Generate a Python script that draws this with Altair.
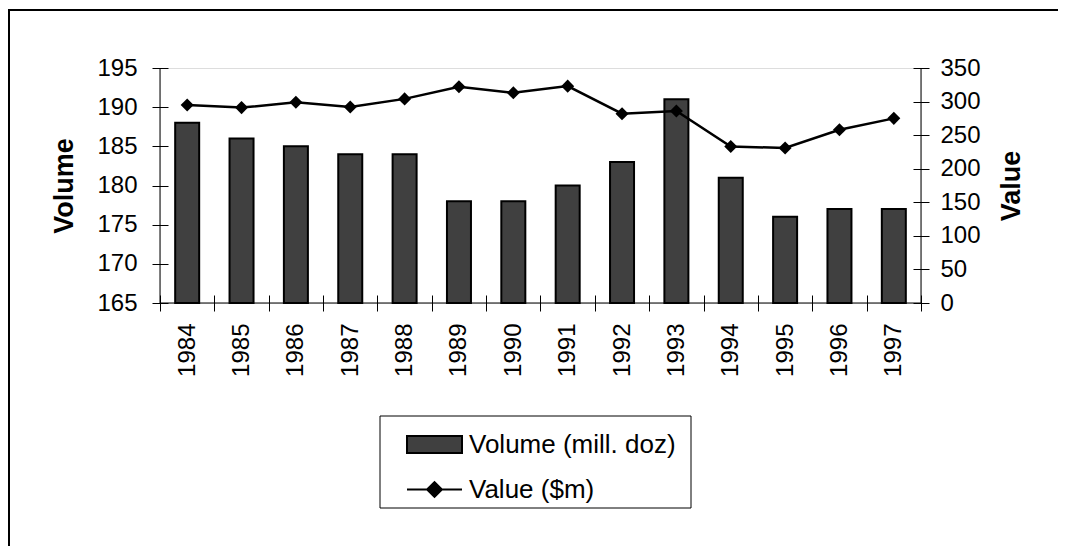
import altair as alt
import pandas as pd

years = ["1984", "1985", "1986", "1987", "1988", "1989", "1990",
         "1991", "1992", "1993", "1994", "1995", "1996", "1997"]
volume = [188, 186, 185, 184, 184, 178, 178, 180, 183, 191, 181, 176, 177, 177]
value = [295, 291, 299, 292, 304, 322, 313, 323, 282, 286, 233, 231, 258, 275]
series_bar = "Volume (mill. doz)"
series_line = "Value ($m)"

df = pd.DataFrame({"year": years, "volume": volume, "value": value,
                   "s1": series_bar, "s2": series_line})

FONT = "Arial"
W, H = 761, 235

xaxis = alt.Axis(title=None, labelAngle=270, tickBand="extent", offset=-8,
                 tickSize=16, domain=False, labelPadding=12, labelFontSize=24,
                 labelColor="black", tickColor="black", grid=False, labelFont=FONT)
xenc = alt.X("year:O", sort=years, axis=xaxis,
             scale=alt.Scale(paddingInner=0, paddingOuter=0))

bars = alt.Chart(df).mark_bar(size=24, stroke="black", strokeWidth=2).encode(
    x=xenc,
    y=alt.Y("volume:Q",
            scale=alt.Scale(domain=[165, 195], zero=False, nice=False),
            axis=alt.Axis(title="Volume", values=list(range(165, 196, 5)), offset=-8,
                          tickSize=16, domain=False, labelPadding=15, labelFontSize=24,
                          labelColor="black", tickColor="black", grid=False,
                          titleFontSize=27, titleFont=FONT, titleFontWeight="bold",
                          titleColor="black", titlePadding=18, labelFont=FONT)),
    y2=alt.datum(165),
    fill=alt.Fill("s1:N", scale=alt.Scale(domain=[series_bar], range=["#404040"]),
                  legend=alt.Legend(orient="none", legendX=246, legendY=348, title=None,
                                    symbolType="M-1,-0.31H1V0.31H-1Z", symbolSize=3025,
                                    symbolStrokeColor="black", symbolStrokeWidth=2,
                                    labelFontSize=26, labelOffset=6, labelFont=FONT,
                                    labelColor="black", labelLimit=0)),
)

yval = alt.Y("value:Q", scale=alt.Scale(domain=[0, 350], nice=False),
             axis=alt.Axis(title="Value", orient="right", values=list(range(0, 351, 50)),
                           offset=-8, tickSize=16, domain=False, labelPadding=11,
                           labelFontSize=24, labelColor="black", tickColor="black",
                           grid=False, titleFontSize=27, titleFont=FONT,
                           titleFontWeight="bold", titleColor="black", titleAngle=270,
                           titlePadding=45, labelFont=FONT))

line = alt.Chart(df).mark_line(strokeWidth=2.5).encode(
    x=xenc, y=yval,
    stroke=alt.Stroke("s2:N", scale=alt.Scale(domain=[series_line], range=["black"]),
                      legend=alt.Legend(orient="none", legendX=246, legendY=393, title=None,
                                        symbolType="M-1,0H1M-0.27,0L0,-0.27L0.27,0L0,0.27Z",
                                        symbolSize=3025, symbolFillColor="black",
                                        symbolStrokeColor="black", symbolStrokeWidth=2,
                                        labelFontSize=26, labelOffset=6, labelFont=FONT,
                                        labelColor="black", labelLimit=0)),
)
points = alt.Chart(df).mark_point(shape="diamond", filled=True, size=170, color="black",
                                  opacity=1).encode(x=xenc, y=yval)

one = pd.DataFrame({"k": [0]})
frame = alt.Chart(one).mark_rule(color="black", strokeWidth=1)
axis_lines = alt.layer(
    frame.encode(x=alt.value(0), y=alt.value(0), y2=alt.value(H)),
    frame.encode(x=alt.value(W), y=alt.value(0), y2=alt.value(H)),
    frame.encode(x=alt.value(0), x2=alt.value(W), y=alt.value(H)),
)
border = alt.layer(
    alt.Chart(one).mark_rule(color="black", strokeWidth=2).encode(
        x=alt.value(-151), y=alt.value(-59), y2=alt.value(480)),
    alt.Chart(one).mark_rule(color="black", strokeWidth=2).encode(
        x=alt.value(-152), x2=alt.value(900), y=alt.value(-58)),
)
legend_box = alt.Chart(one).mark_rect(fill=None, stroke="black", strokeWidth=1).encode(
    x=alt.value(220), x2=alt.value(531), y=alt.value(348), y2=alt.value(440))

left = alt.layer(bars, axis_lines, border, legend_box)
right = alt.layer(line, points)

chart = alt.layer(left, right).resolve_scale(y="independent").properties(
    width=W, height=H,
    padding={"left": 152, "top": 60, "right": 137, "bottom": 243},
    autosize=alt.AutoSizeParams(type="none"),
).configure_view(stroke=None).configure(font=FONT)

chart.save("out.html", embed_options={"renderer": "svg", "actions": False})
